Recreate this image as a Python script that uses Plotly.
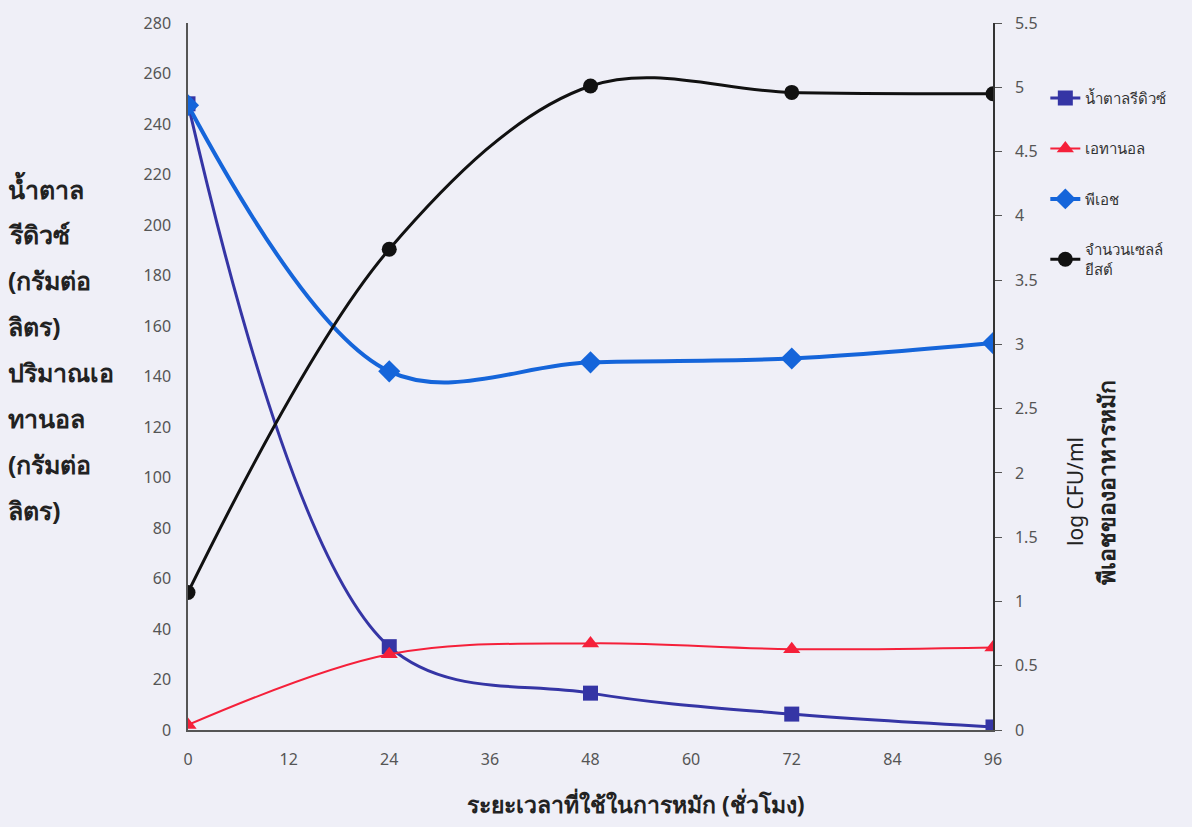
import plotly.graph_objects as go

hours = [0, 24, 48, 72, 96]
sugar = [248, 33, 14.6, 6.3, 1.2]          # g/L, left axis
ethanol = [2, 30, 34.3, 32, 32.7]          # g/L, left axis
ph = [4.86, 2.79, 2.86, 2.89, 3.01]        # right axis
yeast = [1.07, 3.74, 5.01, 4.96, 4.95]     # log CFU/ml, right axis

x_ticks = [0, 12, 24, 36, 48, 60, 72, 84, 96]
left_ticks = list(range(0, 281, 20))
right_ticks = [i * 0.5 for i in range(12)]

left_title_lines = ["น้ำตาล", "รีดิวซ์", "(กรัมต่อ", "ลิตร)", "ปริมาณเอ", "ทานอล", "(กรัมต่อ", "ลิตร)"]

BG = "#EFEFF7"
FONT = "Noto Sans, Tahoma, sans-serif"
TICK_COLOR = "#555555"
TITLE_COLOR = "#222222"

fig = go.Figure()

fig.add_trace(go.Scatter(
    x=hours, y=sugar, name="น้ำตาลรีดิวซ์", yaxis="y",
    mode="lines+markers", line=dict(color="#3535A5", width=3, shape="spline", smoothing=1.0),
    marker=dict(symbol="square", size=15, color="#3535A5"), legendgroup="a"))
fig.add_trace(go.Scatter(
    x=hours, y=ethanol, name="เอทานอล", yaxis="y",
    mode="lines+markers", line=dict(color="#F5203A", width=2, shape="spline", smoothing=1.0),
    marker=dict(symbol="triangle-up", size=15, color="#F5203A"), legendgroup="b"))
fig.add_trace(go.Scatter(
    x=hours, y=ph, name="พีเอช", yaxis="y2",
    mode="lines+markers", line=dict(color="#1565DA", width=4, shape="spline", smoothing=1.0),
    marker=dict(symbol="diamond", size=17, color="#1565DA"), legendgroup="c"))
fig.add_trace(go.Scatter(
    x=hours, y=yeast, name="จำนวนเซลล์<br>ยีสต์", yaxis="y2",
    mode="lines+markers", line=dict(color="#111111", width=3, shape="spline", smoothing=1.0),
    marker=dict(symbol="circle", size=15, color="#111111"), legendgroup="d"))

fig.update_layout(
    width=1192, height=827,
    margin=dict(l=188, r=199, t=19, b=97),
    paper_bgcolor=BG, plot_bgcolor=BG,
    font=dict(family=FONT, color=TICK_COLOR, size=16),
    xaxis=dict(range=[0, 96], tickvals=x_ticks, showgrid=False, zeroline=False,
               showline=True, linecolor="#555555", linewidth=1.5,
               ticks="", ticklabelstandoff=14, tickfont=dict(size=16, color=TICK_COLOR)),
    yaxis=dict(range=[0, 280], tickvals=left_ticks, showgrid=False, zeroline=False,
               showline=True, linecolor="#555555", linewidth=1.5,
               ticks="", ticklabelstandoff=12, tickfont=dict(size=16, color=TICK_COLOR)),
    yaxis2=dict(range=[0, 5.5], tickvals=right_ticks, overlaying="y", side="right",
                showgrid=False, zeroline=False, showline=True, linecolor="#333333",
                linewidth=1.5, ticks="outside", ticklen=7, tickcolor="#555555",
                ticklabelstandoff=10, tickfont=dict(size=16, color=TICK_COLOR)),
    legend=dict(x=1.065, y=0.917, xanchor="left", yanchor="top",
                bgcolor="rgba(0,0,0,0)", font=dict(size=15, color="#333333"),
                tracegroupgap=28),
    showlegend=True,
)

# Left axis title, one line per annotation for generous spacing
line_step = 46.3 / 711
for i, txt in enumerate(left_title_lines):
    fig.add_annotation(
        text=f"<b>{txt}</b>", xref="paper", yref="paper",
        x=-0.226, y=(730 - 185) / 711 - i * line_step, xanchor="left", yanchor="middle",
        showarrow=False, font=dict(size=25, color=TITLE_COLOR, family=FONT))

# Right axis titles, rotated
fig.add_annotation(
    text="log CFU/ml", xref="paper", yref="paper", x=1.122, y=0.337,
    textangle=-90, showarrow=False, font=dict(size=21, color=TITLE_COLOR, family=FONT))
fig.add_annotation(
    text="<b>พีเอชของอาหารหมัก</b>", xref="paper", yref="paper", x=1.163, y=0.349,
    textangle=-90, showarrow=False, font=dict(size=23, color=TITLE_COLOR, family=FONT))

# X axis title
fig.add_annotation(
    text="<b>ระยะเวลาที่ใช้ในการหมัก (ชั่วโมง)</b>", xref="paper", yref="paper",
    x=0.556, y=-0.105, yanchor="middle", showarrow=False,
    font=dict(size=23, color=TITLE_COLOR, family=FONT))

fig.write_html("out.html")
